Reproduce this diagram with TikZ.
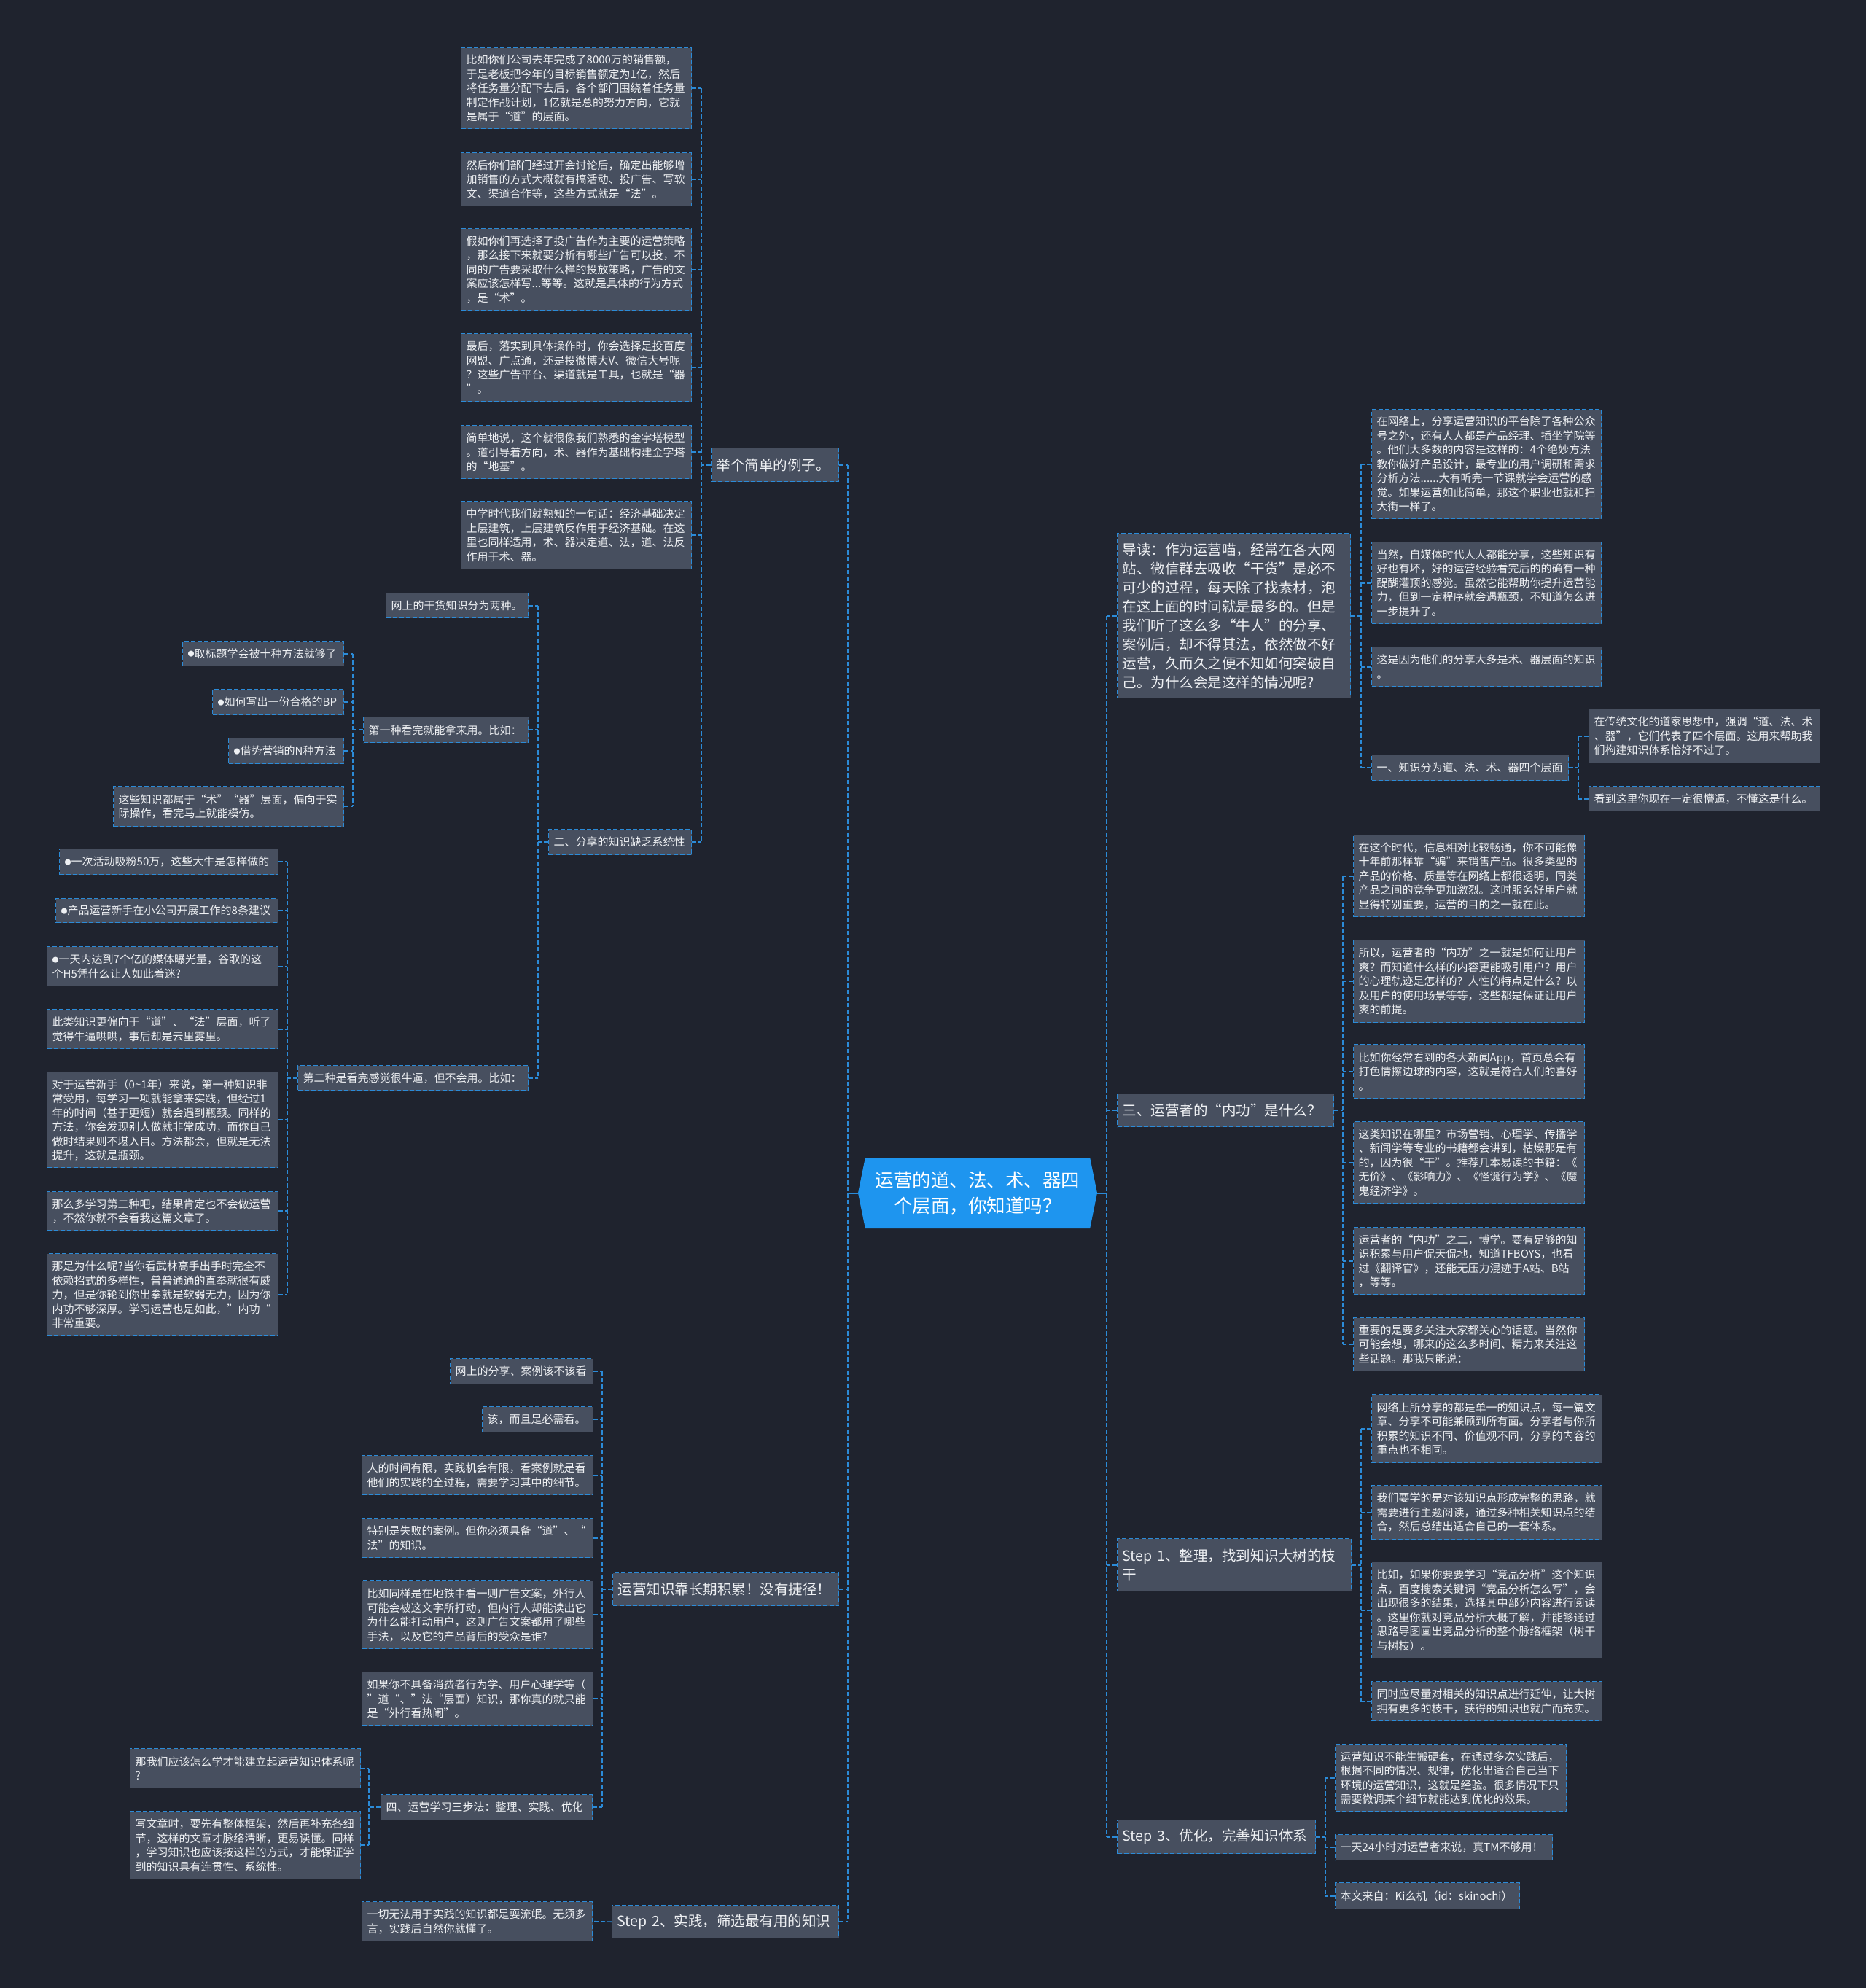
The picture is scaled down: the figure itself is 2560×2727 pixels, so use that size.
\documentclass[tikz,border=0pt]{standalone}
\usepackage{fontspec}
\setmainfont{Noto Sans CJK SC}
\usetikzlibrary{shapes.symbols}
\definecolor{bgc}{HTML}{1F232E}
\definecolor{nodefill}{HTML}{474F5F}
\definecolor{lineblue}{HTML}{2B8BD8}
\definecolor{txtc}{HTML}{EEF0F3}
\definecolor{rootblue}{HTML}{1E95EF}
\hyphenpenalty=10000
\exhyphenpenalty=10000
\newcommand\mmdot{\raisebox{1.5pt}{\fontsize{9}{9}\selectfont ●}}
\newcommand\mmbox[7]{%
  \pgfmathsetmacro\mmw{#5-#3}%
  \pgfmathsetmacro\mmh{#6-#4}%
  \pgfmathsetmacro\mmtw{#5-#3-14}%
  \node[#1, anchor=north west, minimum width=\mmw pt, minimum height=\mmh pt, text width=\mmtw pt] (#2) at (#3,#4) {#7};%
}
\begin{document}
\begin{tikzpicture}[x=1pt,y=-1pt,
  leafbox/.style={rectangle, draw=lineblue, fill=nodefill, line width=1.4pt, dash pattern=on 6pt off 3pt, text=txtc, inner xsep=7pt, inner ysep=2pt, align=left, font=\fontsize{15}{19.5}\selectfont},
  mainbox/.style={leafbox, font=\fontsize{19.5}{26}\selectfont},
  conn/.style={draw=lineblue, line width=1.6pt, dash pattern=on 6pt off 3pt},
  rootconn/.style={draw=lineblue, line width=2pt},
  rootbox/.style={signal, signal to=west and east, signal pointer angle=157, fill=rootblue, minimum width=328pt, minimum height=97pt, inner sep=0pt, text=white, align=center, font=\fontsize{25.5}{35}\selectfont}]
\fill[bgc] (0,0) rectangle (2560,2727);
\useasboundingbox (0,0) rectangle (2560,2727);

% root
\node[rootbox] (root) at (1341,1636.5) {运营的道、法、术、器四\\个层面，你知道吗？};

% ---------------- left side ----------------
\mmbox{mainbox}{E}{975}{614}{1150}{660}{举个简单的例子。}
\mmbox{leafbox}{A1}{632}{65}{948}{176}{比如你们公司去年完成了8000万的销售额，\\于是老板把今年的目标销售额定为1亿，然后\\将任务量分配下去后，各个部门围绕着任务量\\制定作战计划，1亿就是总的努力方向，它就\\是属于“道”的层面。}
\mmbox{leafbox}{A2}{632}{209}{948}{282}{然后你们部门经过开会讨论后，确定出能够增\\加销售的方式大概就有搞活动、投广告、写软\\文、渠道合作等，这些方式就是“法”。}
\mmbox{leafbox}{A3}{632}{313}{948}{425}{假如你们再选择了投广告作为主要的运营策略\\，那么接下来就要分析有哪些广告可以投，不\\同的广告要采取什么样的投放策略，广告的文\\案应该怎样写...等等。这就是具体的行为方式\\，是“术”。}
\mmbox{leafbox}{A4}{632}{457}{948}{550}{最后，落实到具体操作时，你会选择是投百度\\网盟、广点通，还是投微博大V、微信大号呢\\？这些广告平台、渠道就是工具，也就是“器\\”。}
\mmbox{leafbox}{A5}{632}{583}{948}{656}{简单地说，这个就很像我们熟悉的金字塔模型\\。道引导着方向，术、器作为基础构建金字塔\\的“地基”。}
\mmbox{leafbox}{A6}{632}{687}{948}{780}{中学时代我们就熟知的一句话：经济基础决定\\上层建筑，上层建筑反作用于经济基础。在这\\里也同样适用，术、器决定道、法，道、法反\\作用于术、器。}
\mmbox{leafbox}{B}{752}{1137}{948}{1172}{二、分享的知识缺乏系统性}
\mmbox{leafbox}{B1}{529}{813}{724}{847}{网上的干货知识分为两种。}
\mmbox{leafbox}{B2}{498}{983}{724}{1018}{第一种看完就能拿来用。比如：}
\mmbox{leafbox}{B3}{408}{1461}{724}{1495}{第二种是看完感觉很牛逼，但不会用。比如：}
\mmbox{leafbox}{F1}{250}{879}{471}{913}{\mmdot 取标题学会被十种方法就够了}
\mmbox{leafbox}{F2}{291}{945}{471}{980}{\mmdot 如何写出一份合格的BP}
\mmbox{leafbox}{F3}{313}{1012}{471}{1047}{\mmdot 借势营销的N种方法}
\mmbox{leafbox}{F4}{155}{1078}{471}{1133}{这些知识都属于“术”“器”层面，偏向于实\\际操作，看完马上就能模仿。}
\mmbox{leafbox}{G1}{81}{1164}{381}{1199}{\mmdot 一次活动吸粉50万，这些大牛是怎样做的}
\mmbox{leafbox}{G2}{76}{1232}{381}{1265}{\mmdot 产品运营新手在小公司开展工作的8条建议}
\mmbox{leafbox}{G3}{64}{1298}{381}{1352}{\mmdot 一天内达到7个亿的媒体曝光量，谷歌的这\\个H5凭什么让人如此着迷?}
\mmbox{leafbox}{G4}{64}{1384}{381}{1438}{此类知识更偏向于“道”、“法”层面，听了\\觉得牛逼哄哄，事后却是云里雾里。}
\mmbox{leafbox}{G5}{64}{1470}{381}{1601}{对于运营新手（0\textasciitilde1年）来说，第一种知识非\\常受用，每学习一项就能拿来实践，但经过1\\年的时间（甚于更短）就会遇到瓶颈。同样的\\方法，你会发现别人做就非常成功，而你自己\\做时结果则不堪入目。方法都会，但就是无法\\提升，这就是瓶颈。}
\mmbox{leafbox}{G6}{64}{1634}{381}{1687}{那么多学习第二种吧，结果肯定也不会做运营\\，不然你就不会看我这篇文章了。}
\mmbox{leafbox}{G7}{64}{1719}{381}{1831}{那是为什么呢?当你看武林高手出手时完全不\\依赖招式的多样性，普普通通的直拳就很有威\\力，但是你轮到你出拳就是软弱无力，因为你\\内功不够深厚。学习运营也是如此，”内功“\\非常重要。}

\mmbox{mainbox}{R}{840}{2157}{1150}{2202}{运营知识靠长期积累！没有捷径！}
\mmbox{leafbox}{H1}{617}{1863}{813}{1898}{网上的分享、案例该不该看}
\mmbox{leafbox}{H2}{661}{1929}{813}{1964}{该，而且是必需看。}
\mmbox{leafbox}{H3}{496}{1996}{813}{2050}{人的时间有限，实践机会有限，看案例就是看\\他们的实践的全过程，需要学习其中的细节。}
\mmbox{leafbox}{H4}{496}{2082}{813}{2136}{特别是失败的案例。但你必须具备“道”、“\\法”的知识。}
\mmbox{leafbox}{H5}{496}{2168}{813}{2261}{比如同样是在地铁中看一则广告文案，外行人\\可能会被这文字所打动，但内行人却能读出它\\为什么能打动用户，这则广告文案都用了哪些\\手法，以及它的产品背后的受众是谁?}
\mmbox{leafbox}{H6}{496}{2293}{813}{2366}{如果你不具备消费者行为学、用户心理学等（\\”道“、”法“层面）知识，那你真的就只能\\是“外行看热闹”。}
\mmbox{leafbox}{H7}{522}{2461}{812}{2496}{四、运营学习三步法：整理、实践、优化}
\mmbox{leafbox}{I1}{178}{2398}{494}{2452}{那我们应该怎么学才能建立起运营知识体系呢\\?}
\mmbox{leafbox}{I2}{178}{2484}{494}{2577}{写文章时，要先有整体框架，然后再补充各细\\节，这样的文章才脉络清晰，更易读懂。同样\\，学习知识也应该按这样的方式，才能保证学\\到的知识具有连贯性、系统性。}

\mmbox{mainbox}{S2}{839}{2613}{1150}{2658}{Step~2、实践，筛选最有用的知识}
\mmbox{leafbox}{S2c}{496}{2608}{812}{2662}{一切无法用于实践的知识都是耍流氓。无须多\\言，实践后自然你就懂了。}

% ---------------- right side ----------------
\mmbox{mainbox}{D}{1532}{731}{1852}{957}{导读：作为运营喵，经常在各大网\\站、微信群去吸收“干货”是必不\\可少的过程，每天除了找素材，泡\\在这上面的时间就是最多的。但是\\我们听了这么多“牛人”的分享、\\案例后，却不得其法，依然做不好\\运营，久而久之便不知如何突破自\\己。为什么会是这样的情况呢?}
\mmbox{leafbox}{D1}{1881}{561}{2196}{711}{在网络上，分享运营知识的平台除了各种公众\\号之外，还有人人都是产品经理、插坐学院等\\。他们大多数的内容是这样的：4个绝妙方法\\教你做好产品设计，最专业的用户调研和需求\\分析方法......大有听完一节课就学会运营的感\\觉。如果运营如此简单，那这个职业也就和扫\\大街一样了。}
\mmbox{leafbox}{D2}{1881}{743}{2196}{855}{当然，自媒体时代人人都能分享，这些知识有\\好也有坏，好的运营经验看完后的的确有一种\\醍醐灌顶的感觉。虽然它能帮助你提升运营能\\力，但到一定程序就会遇瓶颈，不知道怎么进\\一步提升了。}
\mmbox{leafbox}{D3}{1881}{887}{2196}{941}{这是因为他们的分享大多是术、器层面的知识\\。}
\mmbox{leafbox}{D4}{1881}{1035}{2151}{1070}{一、知识分为道、法、术、器四个层面}
\mmbox{leafbox}{D41}{2179}{972}{2496}{1046}{在传统文化的道家思想中，强调“道、法、术\\、器”，它们代表了四个层面。这用来帮助我\\们构建知识体系恰好不过了。}
\mmbox{leafbox}{D42}{2179}{1078}{2496}{1112}{看到这里你现在一定很懵逼，不懂这是什么。}

\mmbox{mainbox}{T}{1532}{1500}{1829}{1545}{三、运营者的“内功”是什么？}
\mmbox{leafbox}{T1}{1856}{1145}{2173}{1257}{在这个时代，信息相对比较畅通，你不可能像\\十年前那样靠“骗”来销售产品。很多类型的\\产品的价格、质量等在网络上都很透明，同类\\产品之间的竞争更加激烈。这时服务好用户就\\显得特别重要，运营的目的之一就在此。}
\mmbox{leafbox}{T2}{1856}{1289}{2173}{1402}{所以，运营者的“内功”之一就是如何让用户\\爽？而知道什么样的内容更能吸引用户？用户\\的心理轨迹是怎样的？人性的特点是什么？以\\及用户的使用场景等等，这些都是保证让用户\\爽的前提。}
\mmbox{leafbox}{T3}{1856}{1432}{2173}{1506}{比如你经常看到的各大新闻App，首页总会有\\打色情擦边球的内容，这就是符合人们的喜好\\。}
\mmbox{leafbox}{T4}{1856}{1538}{2173}{1650}{这类知识在哪里？市场营销、心理学、传播学\\、新闻学等专业的书籍都会讲到，枯燥那是有\\的，因为很“干”。推荐几本易读的书籍：《\\无价》、《影响力》、《怪诞行为学》、《魔\\鬼经济学》。}
\mmbox{leafbox}{T5}{1856}{1683}{2173}{1775}{运营者的“内功”之二，博学。要有足够的知\\识积累与用户侃天侃地，知道TFBOYS，也看\\过《翻译官》，还能无压力混迹于A站、B站\\，等等。}
\mmbox{leafbox}{T6}{1856}{1807}{2173}{1880}{重要的是要多关注大家都关心的话题。当然你\\可能会想，哪来的这么多时间、精力来关注这\\些话题。那我只能说：}

\mmbox{mainbox}{S1}{1532}{2110}{1853}{2182}{Step~1、整理，找到知识大树的枝\\干}
\mmbox{leafbox}{S11}{1881}{1912}{2197}{2006}{网络上所分享的都是单一的知识点，每一篇文\\章、分享不可能兼顾到所有面。分享者与你所\\积累的知识不同、价值观不同，分享的内容的\\重点也不相同。}
\mmbox{leafbox}{S12}{1881}{2037}{2197}{2111}{我们要学的是对该知识点形成完整的思路，就\\需要进行主题阅读，通过多种相关知识点的结\\合，然后总结出适合自己的一套体系。}
\mmbox{leafbox}{S13}{1881}{2142}{2197}{2274}{比如，如果你要要学习“竞品分析”这个知识\\点，百度搜索关键词“竞品分析怎么写”，会\\出现很多的结果，选择其中部分内容进行阅读\\。这里你就对竞品分析大概了解，并能够通过\\思路导图画出竞品分析的整个脉络框架（树干\\与树枝）。}
\mmbox{leafbox}{S14}{1881}{2306}{2197}{2360}{同时应尽量对相关的知识点进行延伸，让大树\\拥有更多的枝干，获得的知识也就广而充实。}

\mmbox{mainbox}{S3}{1532}{2496}{1804}{2542}{Step~3、优化，完善知识体系}
\mmbox{leafbox}{S31}{1831}{2392}{2148}{2484}{运营知识不能生搬硬套，在通过多次实践后，\\根据不同的情况、规律，优化出适合自己当下\\环境的运营知识，这就是经验。很多情况下只\\需要微调某个细节就能达到优化的效果。}
\mmbox{leafbox}{S32}{1831}{2516}{2129}{2551}{一天24小时对运营者来说，真TM不够用！}
\mmbox{leafbox}{S33}{1831}{2582}{2084}{2618}{本文来自：Ki么机（id：skinochi）}

% ---------------- connectors ----------------
\coordinate (xL) at (1163,0);
\coordinate (xRt) at (1518,0);
\coordinate (xE) at (962,0);
\coordinate (xB) at (738,0);
\coordinate (xBb) at (484,0);
\coordinate (xBc) at (394,0);
\coordinate (xR) at (826,0);
\coordinate (xH) at (506,0);
\coordinate (xD) at (1867,0);
\coordinate (xDd) at (2165,0);
\coordinate (xT) at (1842,0);
\coordinate (xS) at (1867,0);
\coordinate (xSs) at (1818,0);

% root left
\draw[rootconn] (root.west) -- (root.west -| xL);
\draw[conn] (E.east -| xL) -- (S2.east -| xL);
\foreach \c in {E,R,S2} \draw[conn] (\c.east) -- (\c.east -| xL);
% root right
\draw[rootconn] (root.east) -- (root.east -| xRt);
\draw[conn] (D.west -| xRt) -- (S3.west -| xRt);
\foreach \c in {D,T,S1,S3} \draw[conn] (\c.west) -- (\c.west -| xRt);

% E
\draw[conn] (E.west) -- (E.west -| xE);
\draw[conn] (A1.east -| xE) -- (B.east -| xE);
\foreach \c in {A1,A2,A3,A4,A5,A6,B} \draw[conn] (\c.east) -- (\c.east -| xE);
% B
\draw[conn] (B.west) -- (B.west -| xB);
\draw[conn] (B1.east -| xB) -- (B3.east -| xB);
\foreach \c in {B1,B2,B3} \draw[conn] (\c.east) -- (\c.east -| xB);
% B2
\draw[conn] (B2.west) -- (B2.west -| xBb);
\draw[conn] (F1.east -| xBb) -- (F4.east -| xBb);
\foreach \c in {F1,F2,F3,F4} \draw[conn] (\c.east) -- (\c.east -| xBb);
% B3
\draw[conn] (B3.west) -- (B3.west -| xBc);
\draw[conn] (G1.east -| xBc) -- (G7.east -| xBc);
\foreach \c in {G1,G2,G3,G4,G5,G6,G7} \draw[conn] (\c.east) -- (\c.east -| xBc);
% R
\draw[conn] (R.west) -- (R.west -| xR);
\draw[conn] (H1.east -| xR) -- (H7.east -| xR);
\foreach \c in {H1,H2,H3,H4,H5,H6,H7} \draw[conn] (\c.east) -- (\c.east -| xR);
% H7
\draw[conn] (H7.west) -- (H7.west -| xH);
\draw[conn] (I1.east -| xH) -- (I2.east -| xH);
\foreach \c in {I1,I2} \draw[conn] (\c.east) -- (\c.east -| xH);
% S2
\draw[conn] (S2.west) -- (S2c.east);

% D
\draw[conn] (D.east) -- (D.east -| xD);
\draw[conn] (D1.west -| xD) -- (D4.west -| xD);
\foreach \c in {D1,D2,D3,D4} \draw[conn] (\c.west) -- (\c.west -| xD);
% D4
\draw[conn] (D4.east) -- (D4.east -| xDd);
\draw[conn] (D41.west -| xDd) -- (D42.west -| xDd);
\foreach \c in {D41,D42} \draw[conn] (\c.west) -- (\c.west -| xDd);
% T
\draw[conn] (T.east) -- (T.east -| xT);
\draw[conn] (T1.west -| xT) -- (T6.west -| xT);
\foreach \c in {T1,T2,T3,T4,T5,T6} \draw[conn] (\c.west) -- (\c.west -| xT);
% S1
\draw[conn] (S1.east) -- (S1.east -| xS);
\draw[conn] (S11.west -| xS) -- (S14.west -| xS);
\foreach \c in {S11,S12,S13,S14} \draw[conn] (\c.west) -- (\c.west -| xS);
% S3
\draw[conn] (S3.east) -- (S3.east -| xSs);
\draw[conn] (S31.west -| xSs) -- (S33.west -| xSs);
\foreach \c in {S31,S32,S33} \draw[conn] (\c.west) -- (\c.west -| xSs);
\end{tikzpicture}
\end{document}
